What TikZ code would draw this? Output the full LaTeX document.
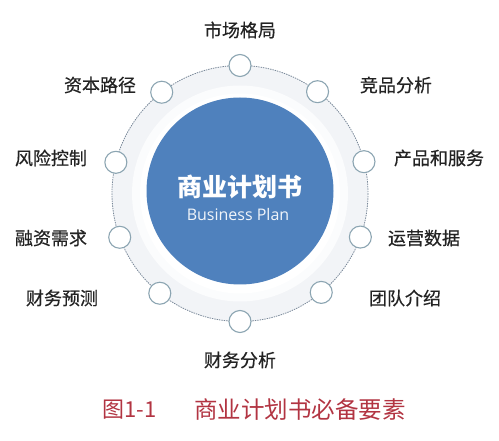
\documentclass[tikz,border=0pt]{standalone}
\usepackage{fontspec}
\usetikzlibrary{calc}
\newfontfamily\cjk{Noto Sans CJK SC}
\newfontfamily\cjkl[FakeBold=0.5]{Noto Sans CJK SC}
\setmainfont{Open Sans}
\definecolor{mainblue}{RGB}{79,129,189}
\definecolor{ringgray}{RGB}{120,135,152}
\definecolor{smallgray}{RGB}{140,165,178}
\definecolor{capred}{RGB}{178,52,66}
\definecolor{labelgray}{RGB}{35,35,35}
\definecolor{bandgray}{RGB}{242,244,247}
\begin{document}
\begin{tikzpicture}[x=1pt,y=-1pt,
  lbl/.style={font=\cjkl\fontsize{18}{20}\selectfont, text=labelgray, inner sep=0pt},
  smallc/.style={circle, draw=smallgray, line width=1.1pt, fill=white, minimum size=22pt, inner sep=0pt},
  ringline/.style={draw=ringgray, line width=0.8pt, dash pattern=on 1.4pt off 1pt}]
\useasboundingbox (0,0) rectangle (499,441);
\fill[white] (0,0) rectangle (499,441);
\coordinate (C) at (240,193.5);
% light band and ring
\fill[bandgray] (C) circle (128);
\fill[white!70!bandgray] (C) circle (108);
\fill[white] (C) circle (100);
\draw[ringline] (C) circle (128);
% blue centre
\node[circle, fill=mainblue, minimum size=187pt, inner sep=0pt] (core) at (240,191) {};
\node[font=\cjk\bfseries\fontsize{25}{27}\selectfont, text=white, inner sep=0pt] (title) at (240,187) {商业计划书};
\node[font=\fontsize{16}{18}\selectfont, text=white!92!mainblue, inner sep=0pt] (sub) at (238,215) {Business Plan};
% small circles (angles measured counter-clockwise in the image; y axis is flipped)
\node[smallc] (c1) at ($(C)+(-90:128)$) {};
\node[smallc] (c2) at ($(C)+(-52.7:128)$) {};
\node[smallc] (c3) at ($(C)+(-14.4:128)$) {};
\node[smallc] (c4) at ($(C)+(19.9:128)$) {};
\node[smallc] (c5) at ($(C)+(50.6:128)$) {};
\node[smallc] (c6) at ($(C)+(90:128)$) {};
\node[smallc] (c7) at ($(C)+(128.8:128)$) {};
\node[smallc] (c8) at ($(C)+(160:128)$) {};
\node[smallc] (c9) at ($(C)+(-165.9:128)$) {};
\node[smallc] (c10) at ($(C)+(-127.7:128)$) {};
% labels
\node[lbl] (l1) at (240,30) {市场格局};
\node[lbl] (l2) at (396,85) {竞品分析};
\node[lbl] (l3) at (439,158) {产品和服务};
\node[lbl] (l4) at (424,238) {运营数据};
\node[lbl] (l5) at (405,298) {团队介绍};
\node[lbl] (l6) at (240,360) {财务分析};
\node[lbl] (l7) at (62,298) {财务预测};
\node[lbl] (l8) at (51,238) {融资需求};
\node[lbl] (l9) at (51,158) {风险控制};
\node[lbl] (l10) at (100,85) {资本路径};
% caption
\node[font=\cjk\fontsize{22}{24}\selectfont, text=capred, inner sep=0pt, anchor=west] (cap1) at (102,410) {图1-1};
\node[font=\cjk\fontsize{23.5}{26}\selectfont, text=capred, inner sep=0pt, anchor=west] (cap2) at (194,410) {商业计划书必备要素};
\end{tikzpicture}
\end{document}
